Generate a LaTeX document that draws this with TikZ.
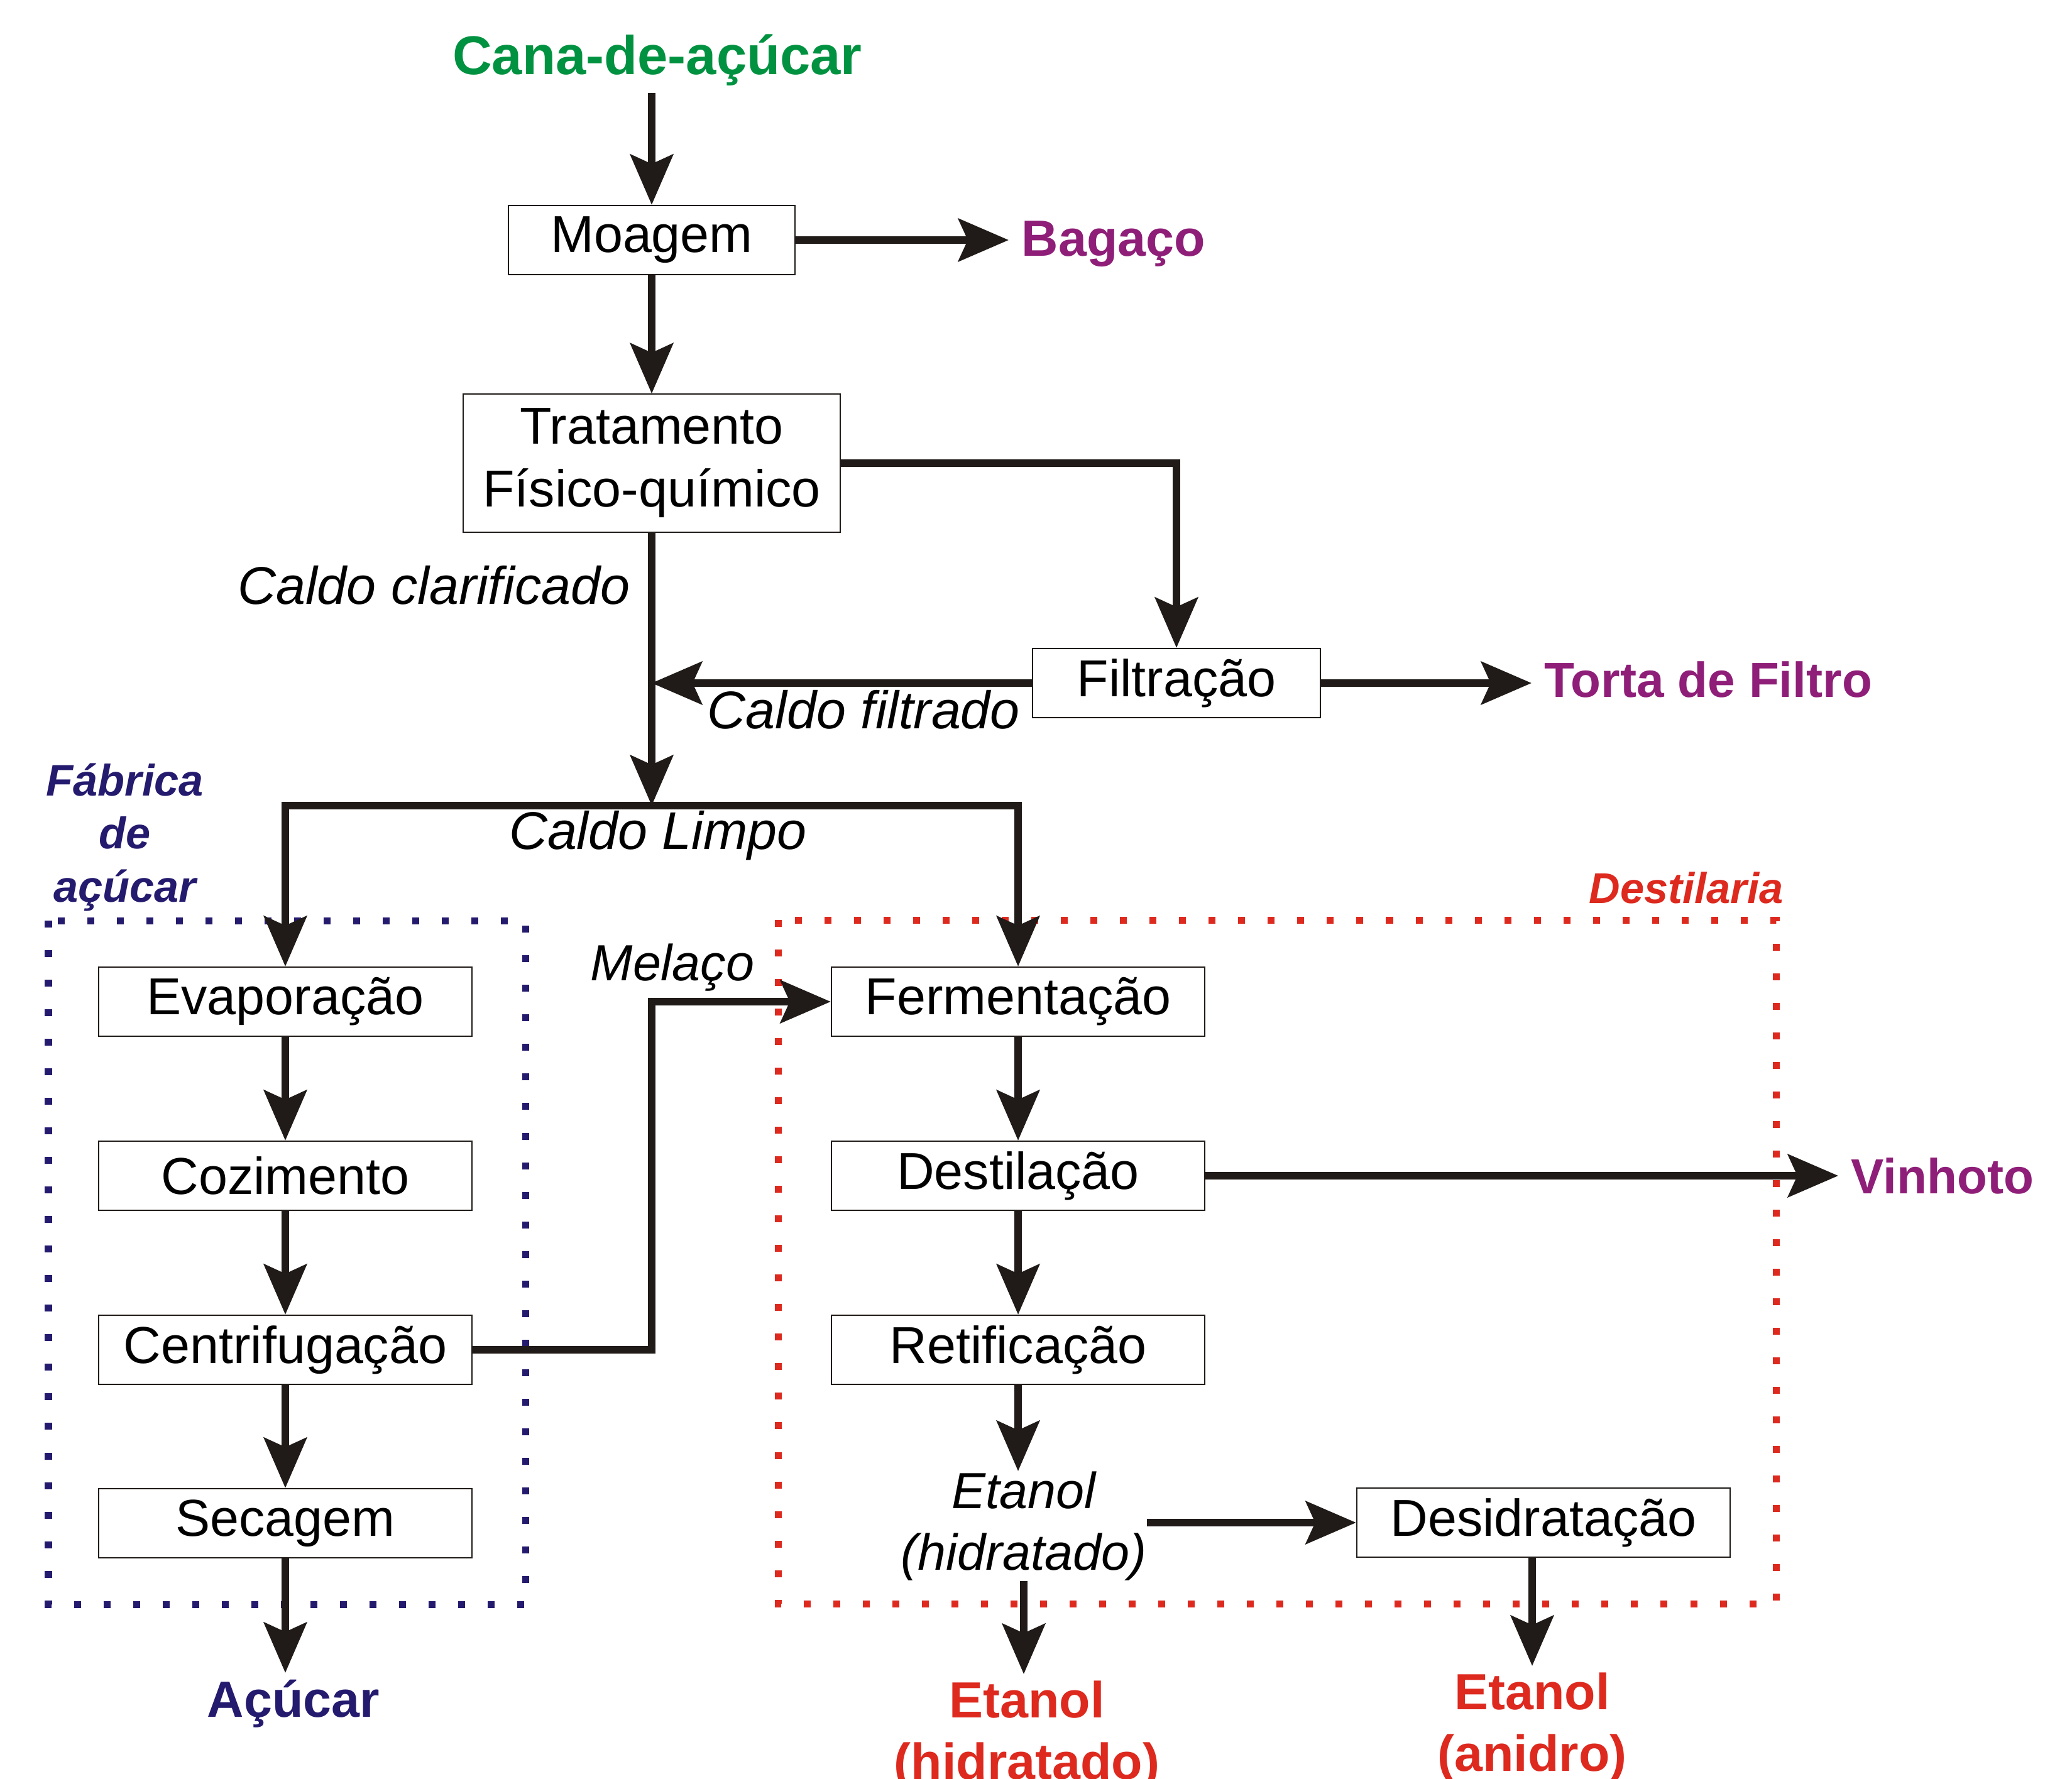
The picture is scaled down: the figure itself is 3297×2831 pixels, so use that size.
\documentclass[tikz,border=0pt]{standalone}
\usepackage{fontspec}
\setmainfont{Liberation Sans}
\usepackage{tikz}
\usetikzlibrary{arrows.meta}
\tikzset{>={Stealth[length=8mm,width=6.8mm,inset=1.5mm]}}
\definecolor{verdecana}{RGB}{0,146,64}
\definecolor{roxo}{RGB}{142,30,120}
\definecolor{azulfab}{RGB}{36,26,110}
\definecolor{vermelho}{RGB}{221,41,30}
\definecolor{linha}{RGB}{32,27,24}

\begin{document}
\begin{tikzpicture}[
    x = 0.01cm, y = -0.01cm,
    box/.style = {draw=linha, line width=0.6pt, minimum width=5.94cm,
        minimum height=1.1cm, inner sep=0pt, align=center,
        font=\fontsize{23.5}{28.5}\selectfont},
    prod/.style = {inner xsep=2mm, inner ysep=1mm, align=center,
        font=\bfseries\fontsize{23}{28}\selectfont},
    obs/.style = {inner sep=0pt, align=center,
        font=\itshape\fontsize{24}{28}\selectfont},
    zona/.style = {line width=1.1mm, dash pattern=on 1.1mm off 3.6mm},
    flow/.style = {->, draw=linha, line width=1.15mm}
  ]
  \useasboundingbox (0,0) rectangle (3297,2831);

  % fabrica e destilaria
  \draw[zona, azulfab] (77,1465) rectangle (836,2553);
  \draw[zona, vermelho] (1238,1464) rectangle (2826,2552);

  \node[prod, text=verdecana, font=\bfseries\fontsize{24.7}{29}\selectfont,
    anchor=base] (cana) at (1046,119) {Cana-de-açúcar};
  \node[box, minimum width=4.56cm] (moagem) at (1037,382) {Moagem};
  \node[prod, text=roxo, anchor=base west] (bagaco) at (1605,408) {Bagaço};
  \node[box, minimum width=5.99cm, minimum height=2.19cm] (trat) at (1037,737)
    {Tratamento\\Físico-químico};
  \node[box, minimum width=4.57cm] (filtr) at (1872,1087) {Filtração};
  \node[prod, text=roxo, font=\bfseries\fontsize{22.3}{27}\selectfont,
    anchor=base west] (torta) at (2437,1109) {Torta de Filtro};
  \coordinate (jL) at (1037,1282);

  \node[obs, anchor=base east] (clarif) at (1003,961) {Caldo clarificado};
  \node[obs, anchor=base west] (filtrado) at (1125,1159) {Caldo filtrado};
  \node[obs, anchor=base] (limpo) at (1047,1351) {Caldo Limpo};
  \node[obs, font=\itshape\fontsize{23}{28}\selectfont, anchor=base] (melaco)
    at (1070,1560) {Melaço};

  \node[prod, text=azulfab, font=\bfseries\itshape\fontsize{20}{24}\selectfont,
    anchor=north] (fab) at (199,1204) {Fábrica\\de\\açúcar};
  \node[prod, text=vermelho, font=\bfseries\itshape\fontsize{19.5}{23}\selectfont,
    anchor=base east] (destlbl) at (2858,1437) {Destilaria};

  \foreach \nome/\txt/\y in {evap/Evaporação/1594, cozi/Cozimento/1871,
      centr/Centrifugação/2148, secag/Secagem/2424}
    \node[box] (\nome) at (454,\y) {\txt};
  \foreach \nome/\txt/\y in {ferm/Fermentação/1594, dest/Destilação/1871,
      retif/Retificação/2148}
    \node[box] (\nome) at (1620,\y) {\txt};

  \node[box] (desid) at (2456,2423) {Desidratação};
  \node[obs, font=\itshape\fontsize{23}{28}\selectfont, anchor=north] (etlbl)
    at (1629,2341) {Etanol\\(hidratado)};
  \node[prod, text=roxo, font=\bfseries\fontsize{22.3}{27}\selectfont,
    anchor=base west] (vinhoto) at (2925,1899) {Vinhoto};
  \node[prod, text=vermelho, anchor=north] (etH) at (1634,2664) {Etanol\\(hidratado)};
  \node[prod, text=vermelho, anchor=north] (etA) at (2438,2651) {Etanol\\(anidro)};
  \node[prod, text=azulfab, anchor=base] (acucar) at (467,2732) {Açúcar};

  % caldo
  \draw[flow] (cana.south -| moagem.north) -- (moagem.north);
  \draw[flow] (moagem.east) -- (moagem.east -| bagaco.west);
  \draw[flow] (moagem) -- (trat);
  \draw[flow] (trat) -| (filtr);
  \draw[flow] (filtr.east) -- (filtr.east -| torta.west);
  \draw[flow] (filtr.west) -- (filtr.west -| jL);
  \draw[flow] (trat.south) -- (jL);
  \draw[flow] (jL) -| (evap.north);
  \draw[flow] (jL) -| (ferm.north);

  % acucar
  \foreach \a/\b in {evap/cozi, cozi/centr, centr/secag}
    \draw[flow] (\a) -- (\b);
  \draw[flow] (secag) -- (secag |- acucar.north);
  \draw[flow] (centr.east) -| (jL |- ferm.west) -- (ferm.west);

  % etanol
  \foreach \a/\b in {ferm/dest, dest/retif}
    \draw[flow] (\a) -- (\b);
  \draw[flow] (retif) -- (retif |- etlbl.north);
  \draw[flow] (dest.east) -- (dest.east -| vinhoto.west);
  \draw[flow] (etlbl.east |- desid.west) -- (desid.west);
  \draw[flow] (etlbl.south) -- (etlbl.south |- etH.north);
  \draw[flow] (etA |- desid.south) -- (etA.north);
\end{tikzpicture}
\end{document}
